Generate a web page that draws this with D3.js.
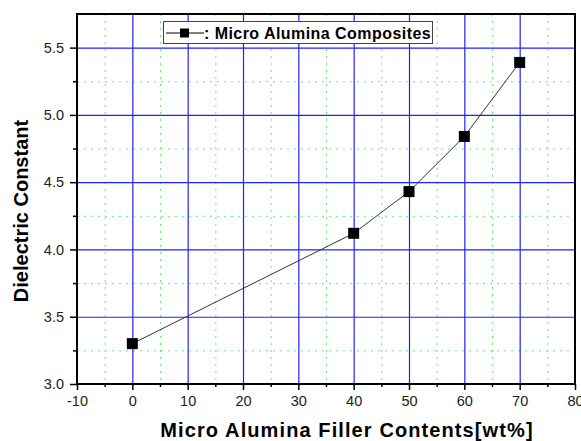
<!DOCTYPE html>
<html>
<head>
<meta charset="utf-8">
<script src="https://cdn.jsdelivr.net/npm/d3@7"></script>
<style>
  body { margin: 0; background: #fff; }
  svg { display: block; font-family: 'Liberation Sans', Arial, sans-serif; }
</style>
</head>
<body>
<svg id="chart"></svg>
<script>
// data
const fillerContent = [0, 40, 50, 60, 70];
const dielectricConstant = [3.30, 4.12, 4.43, 4.84, 5.39];
const xTicks = [-10, 0, 10, 20, 30, 40, 50, 60, 70, 80];
const xMinorTicks = [-5, 5, 15, 25, 35, 45, 55, 65, 75];
const yTicks = [3.0, 3.5, 4.0, 4.5, 5.0, 5.5];
const yMinorTicks = [3.25, 3.75, 4.25, 4.75, 5.25, 5.75];
const seriesName = 'Micro Alumina Composites';

const width = 581, height = 441;
const margin = { top: 14, right: 6, bottom: 57, left: 77 };

const svg = d3.select('#chart')
    .attr('width', width)
    .attr('height', height);

const x = d3.scaleLinear().domain([-10, 80]).range([margin.left, width - margin.right]);
const y = d3.scaleLinear().domain([3.0, 5.75]).range([height - margin.bottom, margin.top]);

const plotW = x.range()[1] - x.range()[0];
const plotH = y.range()[0] - y.range()[1];

// minor grid (green dotted)
const grid = svg.append('g').attr('class', 'grid');
grid.selectAll('line.xminor')
    .data(xMinorTicks)
    .enter()
    .append('line')
        .attr('x1', d => x(d) + 0.5).attr('x2', d => x(d) + 0.5)
        .attr('y1', y.range()[1]).attr('y2', y.range()[0])
        .attr('stroke', '#66ee66')
        .attr('stroke-dasharray', '2,5');
grid.selectAll('line.yminor')
    .data(yMinorTicks)
    .enter()
    .append('line')
        .attr('x1', x.range()[0]).attr('x2', x.range()[1])
        .attr('y1', d => y(d) + 0.5).attr('y2', d => y(d) + 0.5)
        .attr('stroke', '#66ee66')
        .attr('stroke-dasharray', '2,5');

// major grid (blue solid)
grid.selectAll('line.xmajor')
    .data(xTicks.slice(1, -1))
    .enter()
    .append('line')
        .attr('x1', d => x(d) + 0.5).attr('x2', d => x(d) + 0.5)
        .attr('y1', y.range()[1]).attr('y2', y.range()[0])
        .attr('stroke', '#2020ff')
        .attr('stroke-width', 1.2);
grid.selectAll('line.ymajor')
    .data(yTicks.slice(1))
    .enter()
    .append('line')
        .attr('x1', x.range()[0]).attr('x2', x.range()[1])
        .attr('y1', d => y(d) + 0.5).attr('y2', d => y(d) + 0.5)
        .attr('stroke', '#2020ff')
        .attr('stroke-width', 1.2);

// axes
const xAxis = svg.append('g')
    .attr('transform', `translate(0,${y.range()[0]})`)
    .call(d3.axisBottom(x).tickValues(xTicks).tickSize(6).tickPadding(6).tickFormat(d => String(d)));
const xMinor = svg.append('g')
    .attr('transform', `translate(0,${y.range()[0]})`)
    .call(d3.axisBottom(x).tickValues(xMinorTicks).tickSize(3).tickFormat(''));
const yAxis = svg.append('g')
    .attr('transform', `translate(${x.range()[0]},0)`)
    .call(d3.axisLeft(y).tickValues(yTicks).tickSize(7).tickPadding(6).tickFormat(d3.format('.1f')));
const yMinor = svg.append('g')
    .attr('transform', `translate(${x.range()[0]},0)`)
    .call(d3.axisLeft(y).tickValues(yMinorTicks.slice(0, -1)).tickSize(4).tickFormat(''));

[xAxis, xMinor, yAxis, yMinor].forEach(g => {
    g.select('.domain').remove();
    g.selectAll('line').attr('stroke', '#000').attr('stroke-width', 1.5);
    g.selectAll('text')
        .attr('fill', '#222')
        .style('font-size', '14.5px');
});

// frame
svg.append('rect')
    .attr('x', x.range()[0])
    .attr('y', y.range()[1])
    .attr('width', plotW)
    .attr('height', plotH)
    .attr('fill', 'none')
    .attr('stroke', '#000')
    .attr('stroke-width', 2);

// series line
const line = d3.line()
    .x((d, i) => x(fillerContent[i]))
    .y(d => y(d));
svg.append('path')
    .datum(dielectricConstant)
    .attr('d', line)
    .attr('fill', 'none')
    .attr('stroke', '#333')
    .attr('stroke-width', 1);

// markers
const ms = 11;
svg.append('g')
    .selectAll('rect')
    .data(dielectricConstant)
    .enter()
    .append('rect')
        .attr('x', (d, i) => x(fillerContent[i]) - ms / 2)
        .attr('y', d => y(d) - ms / 2)
        .attr('width', ms)
        .attr('height', ms)
        .attr('fill', '#000');

// legend
const legend = svg.append('g').attr('class', 'legend');
legend.append('rect')
    .attr('x', 163.5).attr('y', 21.5)
    .attr('width', 269).attr('height', 22)
    .attr('fill', '#fff')
    .attr('stroke', '#444')
    .attr('stroke-width', 1);
legend.append('line')
    .attr('x1', 166).attr('x2', 204)
    .attr('y1', 33).attr('y2', 33)
    .attr('stroke', '#000');
legend.append('rect')
    .attr('x', 180).attr('y', 28.5)
    .attr('width', 9).attr('height', 9)
    .attr('fill', '#000');
legend.append('text')
    .attr('x', 204).attr('y', 39)
    .style('font-size', '16px')
    .style('font-weight', 'bold')
    .style('letter-spacing', '0.45px')
    .attr('fill', '#000')
    .text(': ' + seriesName);

// axis titles
svg.append('text')
    .attr('x', 347).attr('y', 437)
    .attr('text-anchor', 'middle')
    .style('font-size', '20px')
    .style('font-weight', 'bold')
    .style('letter-spacing', '1.1px')
    .text('Micro Alumina Filler Contents[wt%]');
svg.append('text')
    .attr('transform', 'translate(28,211) rotate(-90)')
    .attr('text-anchor', 'middle')
    .style('font-size', '20px')
    .style('font-weight', 'bold')
    .text('Dielectric Constant');
</script>
</body>
</html>
